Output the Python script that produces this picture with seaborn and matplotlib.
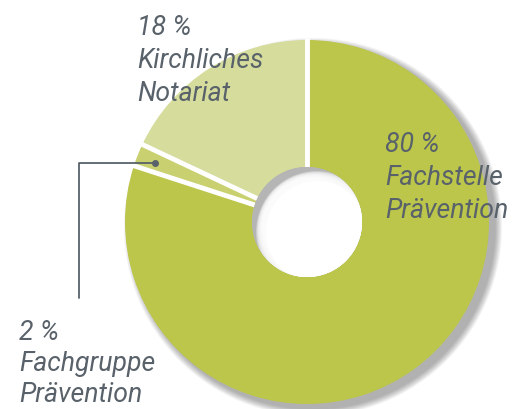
import matplotlib
matplotlib.use("Agg")
import matplotlib.pyplot as plt
import seaborn as sns
import numpy as np
from matplotlib.patches import Circle

sns.set_theme(style="white")
plt.rcParams['font.family'] = ['Roboto', 'DejaVu Sans']

labels = ["Kirchliches\nNotariat", "Fachgruppe\nPrävention", "Fachstelle\nPrävention"]
values = [18, 2, 80]
colors = ["#d5dc9c", "#c9d070", "#bcc64b"]

text_color = "#59626a"
W, H = 517, 409
fig = plt.figure(figsize=(W / 100, H / 100), dpi=100)
ax = fig.add_axes([0, 0, 1, 1])

cx, cy, R, r_in = 307, H - 222, 182, 55

# soft outer shadow (lower right)
for k in range(12, 0, -1):
    ax.add_patch(Circle((cx + 6, cy - 5), R + k * 0.6, color="#000000", alpha=0.028, lw=0, zorder=0))

wedges, _ = ax.pie(values, colors=colors, startangle=90, counterclock=True,
                   center=(cx, cy), radius=R,
                   wedgeprops=dict(width=R - r_in, edgecolor="none", linewidth=0),
                   frame=True)
ax.set_xlim(0, W)
ax.set_ylim(0, H)
ax.set_aspect('equal')
ax.axis('off')

# white separators between slices
for w in wedges:
    a = np.deg2rad(w.theta1)
    ax.plot([cx + r_in * np.cos(a), cx + (R + 2) * np.cos(a)],
            [cy + r_in * np.sin(a), cy + (R + 2) * np.sin(a)],
            color="white", lw=3.5, solid_capstyle='butt', zorder=2)

# inner hole with inner shadow at upper left
hole = Circle((cx, cy), r_in, color="#b5b5b5", lw=0, zorder=3)
ax.add_patch(hole)
for k in range(12):
    c = Circle((cx + 10 - k * 0.4, cy - 10 + k * 0.4), r_in + 6 - k * 1.0,
               color="white", alpha=0.26, lw=0, zorder=3)
    ax.add_patch(c)
    c.set_clip_path(hole)
c = Circle((cx + 10, cy - 10), r_in - 4, color="white", lw=0, zorder=3)
ax.add_patch(c)
c.set_clip_path(hole)

fs = 19.2
def label(x, ybase, lines, spacing=33):
    for i, t in enumerate(lines):
        ax.text(x, H - (ybase + i * spacing), t, fontsize=fs, style='italic',
                color=text_color, ha='left', va='baseline', zorder=5)

label(137, 35, [f"{values[0]} %"] + labels[0].split("\n"))
label(385, 152, [f"{values[2]} %"] + labels[2].split("\n"))
label(19, 340, [f"{values[1]} %"] + labels[1].split("\n"), spacing=31)

# leader line for small slice
ax.plot([155, 79, 79], [H - 163, H - 163, H - 298], color=text_color, lw=1.3, zorder=5)
ax.plot([155], [H - 163], 'o', color=text_color, ms=4, zorder=5)

fig.savefig("out.png", dpi=100)
